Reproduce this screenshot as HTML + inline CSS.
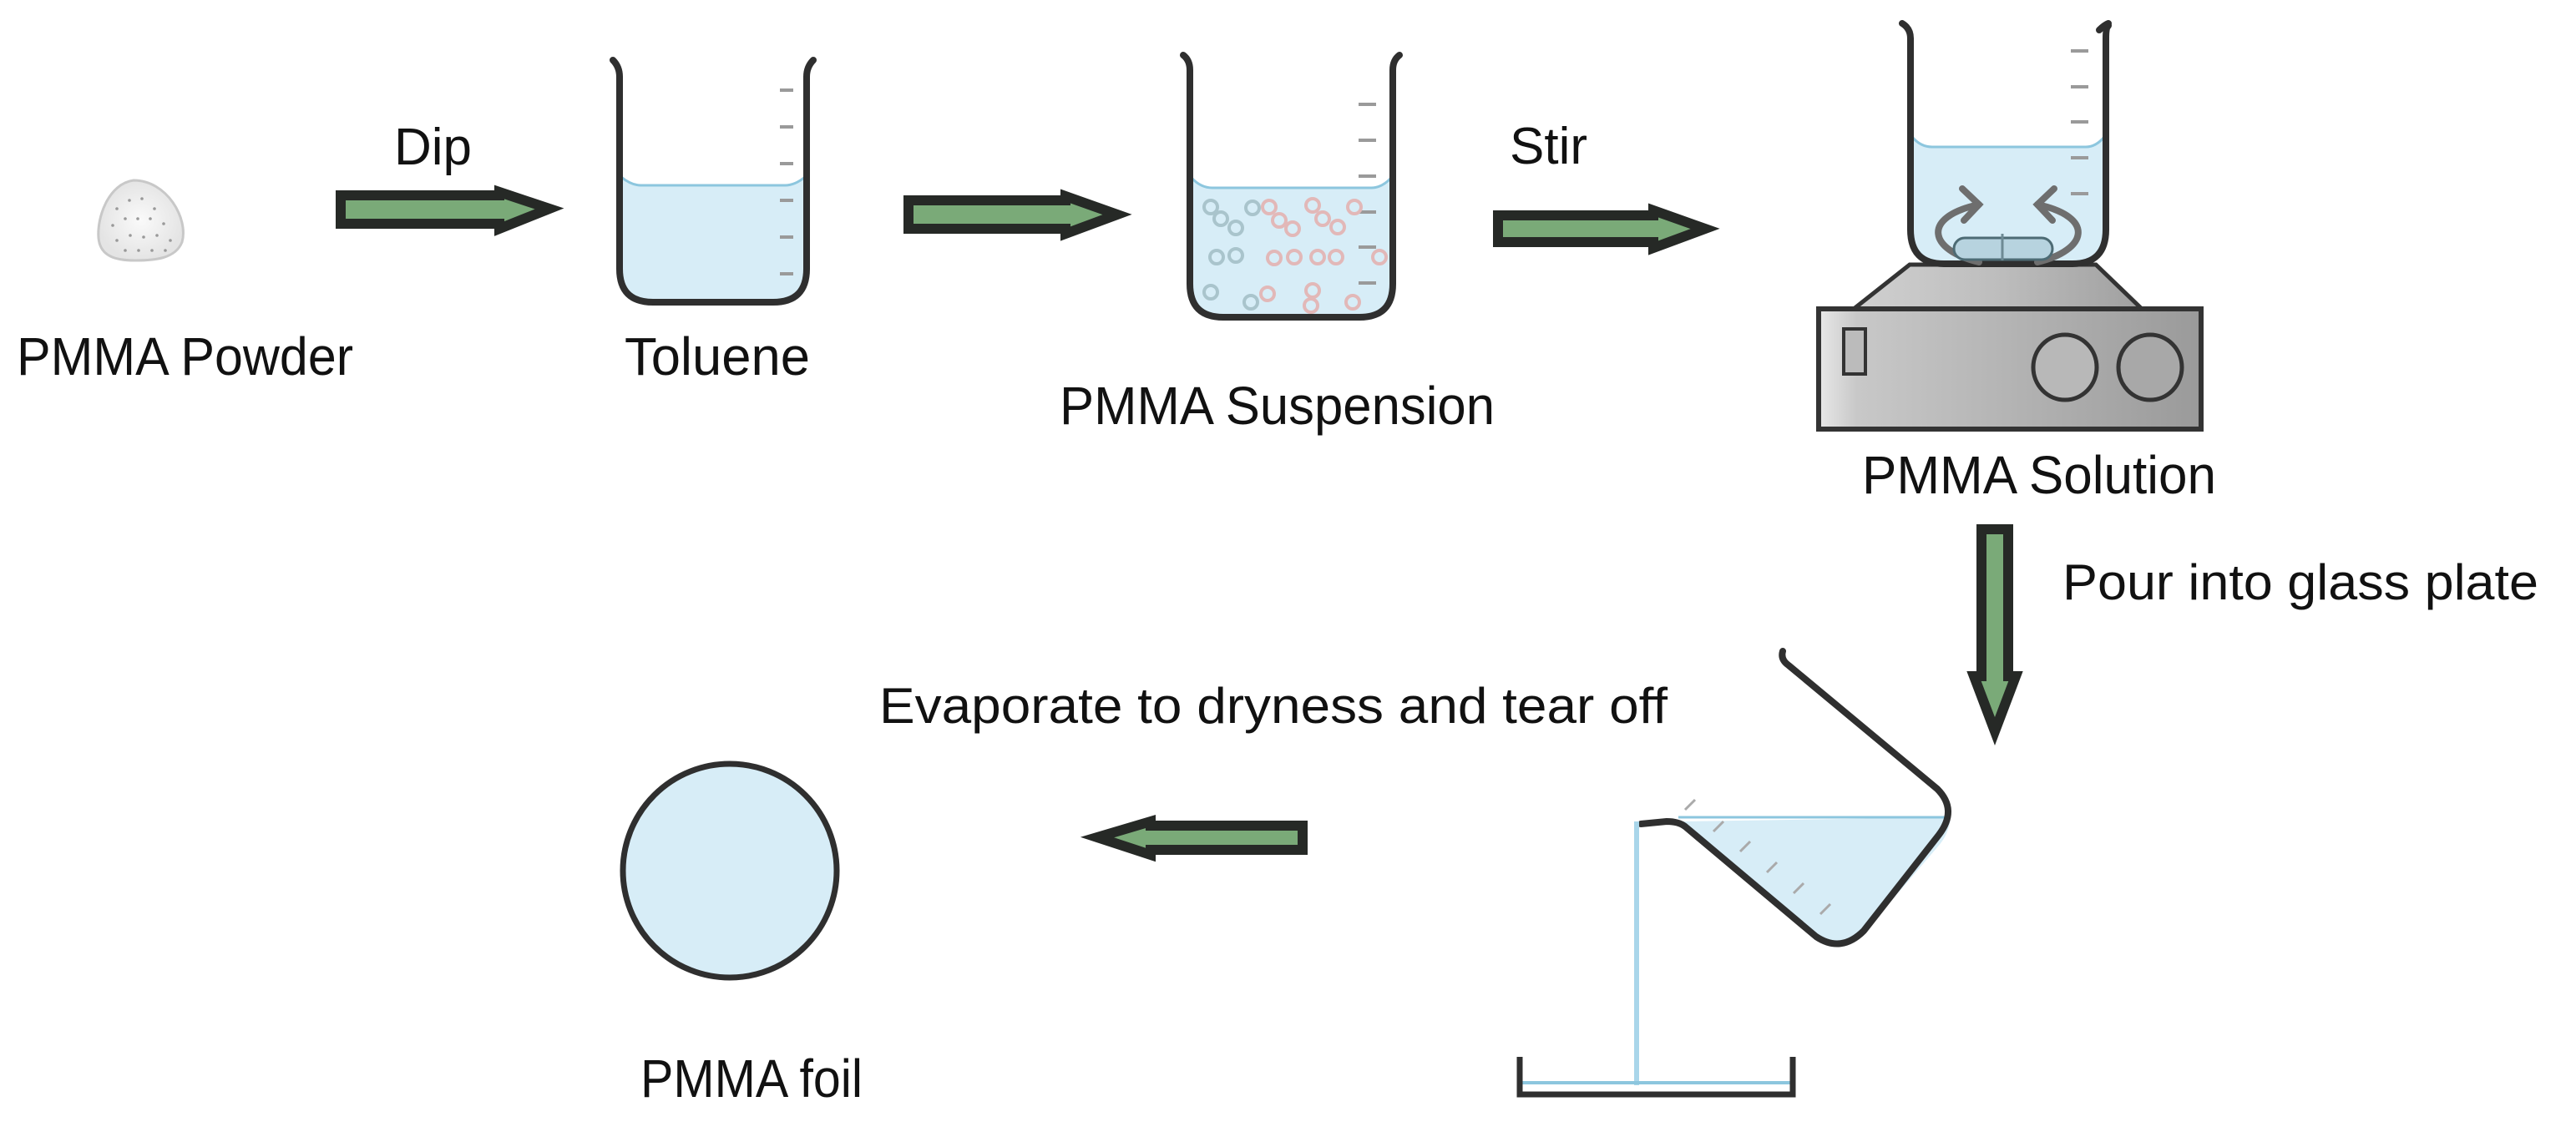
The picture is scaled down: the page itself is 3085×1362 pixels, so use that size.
<!DOCTYPE html>
<html><head><meta charset="utf-8"><style>
html,body{margin:0;padding:0;background:#fff}
svg{display:block}
text{font-family:"Liberation Sans",sans-serif;fill:#111}
</style></head><body>
<svg width="3085" height="1362" viewBox="0 0 3085 1362" xmlns="http://www.w3.org/2000/svg">
<defs>
<linearGradient id="hp" x1="0" x2="1"><stop offset="0" stop-color="#e8e8e8"/><stop offset="0.1" stop-color="#c8c8c8"/><stop offset="1" stop-color="#9a9a9a"/></linearGradient>
<linearGradient id="hp2" x1="0" x2="1"><stop offset="0" stop-color="#d0d0d0"/><stop offset="0.5" stop-color="#bdbdbd"/><stop offset="1" stop-color="#a0a0a0"/></linearGradient>
<radialGradient id="pw"><stop offset="0" stop-color="#fafafa"/><stop offset="1" stop-color="#e4e4e4"/></radialGradient>
</defs>

<!-- powder -->
<path d="M160 216 C130 220 116 260 118 285 C120 308 140 312 162 312 C185 312 210 310 218 290 C226 262 200 216 160 216Z" fill="url(#pw)" stroke="#c8c8c8" stroke-width="3"/>
<g fill="#999">
<circle cx="140" cy="250" r="1.8"/><circle cx="155" cy="240" r="1.8"/><circle cx="170" cy="238" r="1.8"/><circle cx="185" cy="250" r="1.8"/><circle cx="135" cy="270" r="1.8"/><circle cx="150" cy="262" r="1.8"/><circle cx="165" cy="262" r="1.8"/><circle cx="180" cy="262" r="1.8"/><circle cx="196" cy="268" r="1.8"/><circle cx="140" cy="288" r="1.8"/><circle cx="156" cy="282" r="1.8"/><circle cx="172" cy="284" r="1.8"/><circle cx="188" cy="282" r="1.8"/><circle cx="204" cy="288" r="1.8"/><circle cx="150" cy="300" r="1.8"/><circle cx="166" cy="300" r="1.8"/><circle cx="182" cy="300" r="1.8"/><circle cx="198" cy="300" r="1.8"/>
</g>
<text x="20" y="449" font-size="64" textLength="403" lengthAdjust="spacingAndGlyphs">PMMA Powder</text>

<!-- arrow 1 -->
<polygon points="408,234 598,234 598,230 658,250 598,274 598,268 408,268" fill="#7aaa78" stroke="#262926" stroke-width="12" stroke-linejoin="miter"/>
<text x="472" y="197" font-size="62">Dip</text>

<!-- beaker 1 -->
<g>
<path d="M744 212 L744 320 Q744 360 784 360 L924 360 Q964 360 964 320 L964 212 Q950 222 940 222 L768 222 Q756 222 744 212Z" fill="#d7edf7"/>
<path d="M744 212 Q756 222 768 222 L940 222 Q952 222 964 212" fill="none" stroke="#8cc6de" stroke-width="3"/>
<path d="M734 72 Q742 80 742 92 L742 322 Q742 362 782 362 L926 362 Q966 362 966 322 L966 92 Q966 80 974 72" fill="none" stroke="#2f2f2f" stroke-width="8" stroke-linecap="round"/>
<g stroke="#9a9a9a" stroke-width="4"><line x1="934" y1="108" x2="950" y2="108"/><line x1="934" y1="152" x2="950" y2="152"/><line x1="934" y1="196" x2="950" y2="196"/><line x1="934" y1="240" x2="950" y2="240"/><line x1="934" y1="284" x2="950" y2="284"/><line x1="934" y1="328" x2="950" y2="328"/></g>
</g>
<text x="748" y="449" font-size="64" textLength="222" lengthAdjust="spacingAndGlyphs">Toluene</text>

<!-- arrow 2 -->
<polygon points="1088,240 1276,240 1276,235 1338,257 1276,280 1276,274 1088,274" fill="#7aaa78" stroke="#262926" stroke-width="12"/>

<!-- beaker 2 -->
<g>
<path d="M1427 215 L1427 340 Q1427 378 1466 378 L1628 378 Q1666 378 1666 340 L1666 215 Q1655 225 1642 225 L1452 225 Q1438 225 1427 215Z" fill="#d7edf7"/>
<path d="M1427 213 Q1438 225 1452 225 L1642 225 Q1655 225 1666 213" fill="none" stroke="#8cc6de" stroke-width="3"/>
<path d="M1417 66 Q1425 72 1425 84 L1425 340 Q1425 380 1465 380 L1628 380 Q1668 380 1668 340 L1668 84 Q1668 72 1676 66" fill="none" stroke="#2f2f2f" stroke-width="8" stroke-linecap="round"/>
<g stroke="#9a9a9a" stroke-width="4"><line x1="1627" y1="125" x2="1648" y2="125"/><line x1="1627" y1="168" x2="1648" y2="168"/><line x1="1627" y1="211" x2="1648" y2="211"/><line x1="1627" y1="254" x2="1648" y2="254"/><line x1="1627" y1="296" x2="1648" y2="296"/><line x1="1627" y1="339" x2="1648" y2="339"/></g>
<g fill="none" stroke-width="4">
<g stroke="#a9c4cc"><circle cx="1450" cy="248" r="8"/><circle cx="1462" cy="262" r="8"/><circle cx="1480" cy="273" r="8"/><circle cx="1500" cy="249" r="8"/><circle cx="1457" cy="308" r="8"/><circle cx="1480" cy="306" r="8"/><circle cx="1450" cy="350" r="8"/><circle cx="1498" cy="362" r="8"/></g>
<g stroke="#e2b8b8"><circle cx="1520" cy="248" r="8"/><circle cx="1532" cy="264" r="8"/><circle cx="1548" cy="274" r="8"/><circle cx="1572" cy="246" r="8"/><circle cx="1584" cy="262" r="8"/><circle cx="1602" cy="272" r="8"/><circle cx="1622" cy="248" r="8"/><circle cx="1526" cy="309" r="8"/><circle cx="1550" cy="308" r="8"/><circle cx="1578" cy="308" r="8"/><circle cx="1600" cy="308" r="8"/><circle cx="1652" cy="308" r="8"/><circle cx="1518" cy="352" r="8"/><circle cx="1572" cy="348" r="8"/><circle cx="1570" cy="366" r="8"/><circle cx="1620" cy="362" r="8"/></g>
</g>
</g>
<text x="1269" y="508" font-size="64" textLength="521" lengthAdjust="spacingAndGlyphs">PMMA Suspension</text>

<!-- arrow 3 -->
<text x="1808" y="196" font-size="62">Stir</text>
<polygon points="1794,258 1980,258 1980,252 2042,274 1980,297 1980,290 1794,290" fill="#7aaa78" stroke="#262926" stroke-width="12"/>

<!-- hotplate -->
<polygon points="2287,317 2510,317 2565,370 2220,370" fill="url(#hp2)" stroke="#333" stroke-width="5"/>
<rect x="2178" y="370" width="458" height="144" fill="url(#hp)" stroke="#333" stroke-width="6"/>
<rect x="2208" y="394" width="26" height="54" fill="#bbb" stroke="#333" stroke-width="4"/>
<ellipse cx="2473" cy="440" rx="38" ry="39" fill="#b8b8b8" stroke="#333" stroke-width="5"/>
<ellipse cx="2575" cy="440" rx="38" ry="39" fill="#a8a8a8" stroke="#333" stroke-width="5"/>

<!-- beaker 3 -->
<g>
<path d="M2290 166 L2290 275 Q2290 315 2330 315 L2480 315 Q2520 315 2520 275 L2520 166 Q2510 176 2498 176 L2314 176 Q2300 176 2290 166Z" fill="#d7edf7"/>
<path d="M2290 164 Q2300 176 2314 176 L2498 176 Q2510 176 2520 164" fill="none" stroke="#8cc6de" stroke-width="3"/>
<path d="M2278 28 Q2288 34 2288 46 L2288 275 Q2288 316 2328 316 L2482 316 Q2522 316 2522 275 L2522 46 Q2522 34 2524 32 Q2526 30 2524 30" fill="none" stroke="#2f2f2f" stroke-width="8" stroke-linecap="round"/>
<path d="M2514 36 Q2520 30 2525 28" fill="none" stroke="#2f2f2f" stroke-width="8" stroke-linecap="round"/>
<g stroke="#9a9a9a" stroke-width="4"><line x1="2480" y1="61" x2="2501" y2="61"/><line x1="2480" y1="104" x2="2501" y2="104"/><line x1="2480" y1="146" x2="2501" y2="146"/><line x1="2480" y1="189" x2="2501" y2="189"/><line x1="2480" y1="232" x2="2501" y2="232"/></g>
<g fill="none" stroke="#6e6e6e" stroke-width="8" stroke-linecap="round">
<path d="M2370 314 C2310 300 2300 260 2370 245"/><path d="M2350 226 L2370 245 L2352 264"/>
<path d="M2440 314 C2500 300 2510 260 2440 245"/><path d="M2460 226 L2440 245 L2458 264"/>
</g>
<rect x="2340" y="285" width="118" height="26" rx="13" fill="#b7d3df" stroke="#4d6b74" stroke-width="3"/>
<line x1="2398" y1="280" x2="2398" y2="312" stroke="#6e8a94" stroke-width="3"/>
</g>
<text x="2230" y="591" font-size="64" textLength="424" lengthAdjust="spacingAndGlyphs">PMMA Solution</text>

<!-- down arrow -->
<polygon points="2373,634 2405,634 2405,810 2414,810 2389,876 2364,810 2373,810" fill="#7aaa78" stroke="#262926" stroke-width="12"/>
<text x="2470" y="718" font-size="60" textLength="570" lengthAdjust="spacingAndGlyphs">Pour into glass plate</text>

<!-- tilted beaker -->
<path d="M2015 984 L2336 979 Q2334 1000 2320 1015 L2230 1120 Q2205 1140 2180 1125 L2018 992Z" fill="#d7edf7"/>
<line x1="2010" y1="979" x2="2336" y2="979" stroke="#8cc6de" stroke-width="3"/>
<g stroke="#aaa" stroke-width="3"><line x1="2018" y1="970" x2="2030" y2="958"/><line x1="2052" y1="996" x2="2064" y2="984"/><line x1="2084" y1="1020" x2="2096" y2="1008"/><line x1="2116" y1="1045" x2="2128" y2="1033"/><line x1="2148" y1="1070" x2="2160" y2="1058"/><line x1="2180" y1="1095" x2="2192" y2="1083"/></g>
<path d="M2135 780 Q2132 790 2142 797 L2320 945 Q2345 970 2322 1000 L2232 1115 Q2205 1142 2175 1122 L2018 990 Q2010 984 1996 984 L1965 987" fill="none" stroke="#2f2f2f" stroke-width="8" stroke-linecap="round" stroke-linejoin="round"/>
<rect x="1957" y="984" width="6" height="316" fill="#a9d6ea"/>
<line x1="1822" y1="1297" x2="2146" y2="1297" stroke="#8cc6de" stroke-width="4"/>
<path d="M1820 1266 L1820 1311 L2147 1311 L2147 1266" fill="none" stroke="#2f2f2f" stroke-width="7"/>

<!-- left arrow -->
<text x="1053" y="866" font-size="60" textLength="944" lengthAdjust="spacingAndGlyphs">Evaporate to dryness and tear off</text>
<polygon points="1560,989 1378,989 1378,984 1314,1003 1378,1024 1378,1018 1560,1018" fill="#7aaa78" stroke="#262926" stroke-width="12"/>

<!-- foil -->
<circle cx="874" cy="1043" r="128" fill="#d7edf7" stroke="#2f2f2f" stroke-width="7"/>
<text x="767" y="1314" font-size="64" textLength="266" lengthAdjust="spacingAndGlyphs">PMMA foil</text>
</svg>
</body></html>
